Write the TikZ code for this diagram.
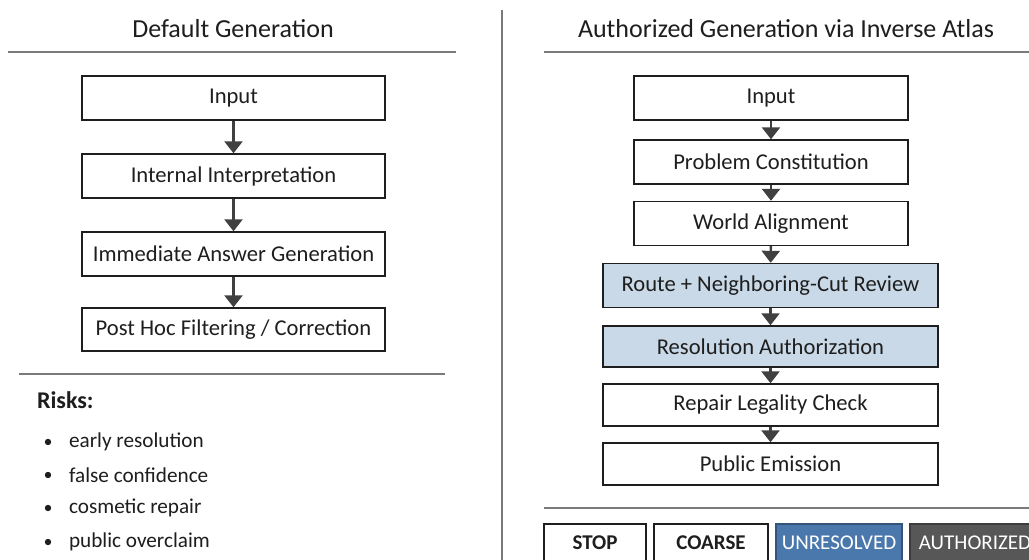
\documentclass[tikz,border=0pt]{standalone}
\usepackage{xcolor}
\usepackage{fontspec}
\setmainfont{Carlito}
\usepackage{tikz}
\usetikzlibrary{arrows.meta,positioning}
\definecolor{inkA}{HTML}{1E1E1E}
\definecolor{ruleA}{HTML}{7A7A7A}
\definecolor{arrowA}{HTML}{404040}
\definecolor{reviewA}{HTML}{C9D9E8}
\definecolor{unresA}{HTML}{4A78AD}
\definecolor{authA}{HTML}{575757}

\begin{document}
\begin{tikzpicture}[x=0.5pt, y=-0.5pt, font=\fontsize{11.3}{13}\selectfont, text=inkA,
    stage/.style={draw=inkA, line width=0.7pt, minimum height=22pt, inner sep=0pt},
    flow/.style={arrowA, line width=1.2pt, -{Triangle[width=9pt,length=6pt]}},
    tag/.style={draw=inkA, line width=0.6pt, minimum height=19pt, inner sep=0pt, font=\fontsize{10.5}{12}\selectfont\bfseries}]
      \clip (0, 0) rectangle (1029, 560);
      \fill[white] (0, 0) rectangle (1029, 560);
      % Divider
      \draw[ruleA, line width=0.8pt] (502, 10) -- (502, 560);
      % Left panel: default generation
      \node[font=\fontsize{13}{15}\selectfont] (defT) at (233, 29) {Default Generation};
      \draw[ruleA, line width=0.6pt] (8, 52) -- (456, 52);
      \node[stage, minimum width=151.5pt] (dIn) at (233.5, 98) {Input};
      \node[stage, minimum width=151.5pt] (dInt) at (233.5, 176) {Internal Interpretation};
      \node[stage, minimum width=151.5pt] (dAns) at (233.5, 254) {Immediate Answer Generation};
      \node[stage, minimum width=151.5pt, minimum height=21.5pt] (dPost) at (233.5, 329.5) {Post Hoc Filtering / Correction};
      \draw[flow] (dIn) -- (dInt);
      \draw[flow] (dInt) -- (dAns);
      \draw[flow] (dAns) -- (dPost);
      % Risks
      \draw[ruleA, line width=0.6pt] (19, 374) -- (445, 374);
      \node[anchor=west, font=\fontsize{12}{14}\selectfont\bfseries] (risks) at (30, 400) {Risks:};
      \foreach \y/\txt [count=\i] in {442/early resolution, 475/false confidence, 508/cosmetic repair, 542/public overclaim} {
        \fill[inkA] (48, \y) circle (1.6pt);
        \node[anchor=west, font=\fontsize{10.6}{12}\selectfont] (risk\i) at (62, \y) {\txt};
      }
      % Right panel: authorized generation
      \node[font=\fontsize{13}{15}\selectfont] (authT) at (786, 29) {Authorized Generation via Inverse Atlas};
      \draw[ruleA, line width=0.6pt] (544, 52) -- (1029, 52);
      \node[stage, minimum width=137pt] (aIn) at (771, 98) {Input};
      \node[stage, minimum width=137pt] (aProb) at (771, 162) {Problem Constitution};
      \node[stage, minimum width=137pt] (aWorld) at (771, 223.5) {World Alignment};
      \node[stage, fill=reviewA, minimum width=167.5pt] (aRoute) at (770.5, 285.5) {Route + Neighboring-Cut Review};
      \node[stage, fill=reviewA, minimum width=167.5pt, minimum height=20.5pt] (aRes) at (770.5, 346.5) {Resolution Authorization};
      \node[stage, minimum width=167.5pt, minimum height=21pt] (aRep) at (770.5, 405) {Repair Legality Check};
      \node[stage, minimum width=167.5pt, minimum height=21pt] (aPub) at (770.5, 464) {Public Emission};
      \draw[flow] (aIn) -- (aProb);
      \draw[flow] (aProb) -- (aWorld);
      \draw[flow] (aWorld) -- (aRoute);
      \draw[flow] (aRoute) -- (aRes);
      \draw[flow] (aRes) -- (aRep);
      \draw[flow] (aRep) -- (aPub);
      % Status tags
      \draw[ruleA, line width=0.6pt] (544, 508) -- (1029, 508);
      \node[tag, minimum width=51pt] (tStop) at (595, 543) {STOP};
      \node[tag, minimum width=57pt] (tCoarse) at (711, 543) {COARSE};
      \node[tag, fill=unresA, draw=unresA!70!black, text=white, minimum width=63pt, font=\fontsize{10.5}{12}\selectfont] (tUnres) at (839, 543) {UNRESOLVED};
      \node[tag, fill=authA, draw=authA!70!black, text=white, minimum width=65pt, font=\fontsize{10.5}{12}\selectfont] (tAuth) at (975, 543) {AUTHORIZED};
\end{tikzpicture}
\end{document}
